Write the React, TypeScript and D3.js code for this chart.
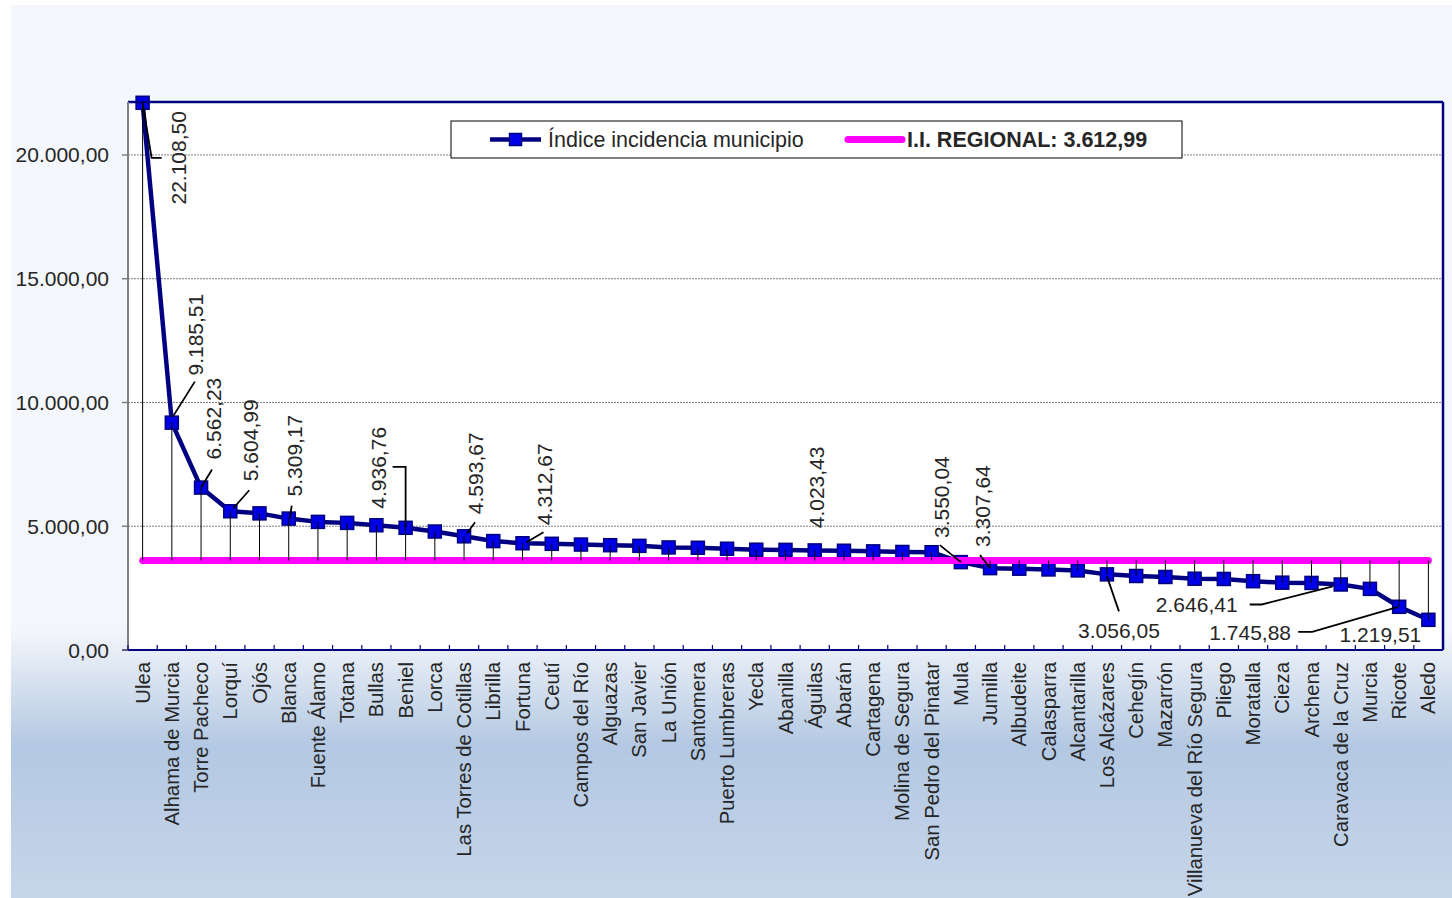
import React from "react";
import * as d3 from "d3";

const categories = [
  "Ulea", "Alhama de Murcia", "Torre Pacheco", "Lorquí", "Ojós", "Blanca", "Fuente Álamo", "Totana",
  "Bullas", "Beniel", "Lorca", "Las Torres de Cotillas", "Librilla", "Fortuna", "Ceutí", "Campos del Río",
  "Alguazas", "San Javier", "La Unión", "Santomera", "Puerto Lumbreras", "Yecla", "Abanilla", "Águilas",
  "Abarán", "Cartagena", "Molina de Segura", "San Pedro del Pinatar", "Mula", "Jumilla", "Albudeite",
  "Calasparra", "Alcantarilla", "Los Alcázares", "Cehegín", "Mazarrón", "Villanueva del Río Segura",
  "Pliego", "Moratalla", "Cieza", "Archena", "Caravaca de la Cruz", "Murcia", "Ricote", "Aledo",
];

const values = [
  22108.5, 9185.51, 6562.23, 5604.99, 5520, 5309.17, 5176, 5136,
  5040, 4936.76, 4787, 4593.67, 4400, 4312.67, 4290, 4260,
  4234, 4208, 4143, 4130, 4091, 4052, 4045, 4023.43,
  4010, 3985, 3960, 3950, 3550.04, 3307.64, 3285,
  3255, 3215, 3056.05, 2990, 2950, 2880,
  2870, 2780, 2720, 2710, 2646.41, 2470, 1745.88, 1219.51,
];

const regional = 3612.99;
const yTicks = [0, 5000, 10000, 15000, 20000];
const seriesName = "Índice incidencia municipio";
const regionalName = "I.I. REGIONAL: 3.612,99";

// label placement (offsets relative to the data point)
const labelPlacements = [
  { i: 0, rot: true, dx: 36, dy: 55, leader: [[0, 0], [9, 55], [19, 55]] },
  { i: 1, rot: true, dx: 24, dy: -88, leader: [[1, -6], [23, -41]] },
  { i: 2, rot: true, dx: 12, dy: -69, leader: [[0, 0], [11, -18]] },
  { i: 3, rot: true, dx: 20, dy: -71, leader: [[3, -3], [19, -21]] },
  { i: 5, rot: true, dx: 6, dy: -63, leader: [[1, 0], [3, -13]] },
  { i: 9, rot: true, dx: -27, dy: -60, leader: [[-13, -61], [0, -61], [0, 0]] },
  { i: 11, rot: true, dx: 11, dy: -63, leader: [[3, -3], [11, -14]] },
  { i: 13, rot: true, dx: 22, dy: -59, leader: [[4, -1], [21, -11]] },
  { i: 23, rot: true, dx: 2, dy: -63, leader: null },
  { i: 28, rot: true, dx: -19, dy: -65, leader: [[-21, -17], [0, 0]] },
  { i: 29, rot: true, dx: -8, dy: -62, leader: [[-10, -13], [0, 0]] },
  { i: 33, rot: false, dx: 12, dy: 56, leader: [[0, 2], [12, 37]] },
  { i: 41, rot: false, dx: -144, dy: 20, leader: [[-91, 20], [-79, 20], [-8, 2]] },
  { i: 43, rot: false, dx: -149, dy: 26, leader: [[-101, 25], [-87, 25], [-1, 0]] },
  { i: 44, rot: false, dx: -48, dy: 15, leader: null },
];

const W = 1452;
const H = 898;
const plot = { left: 128, right: 1443, top: 102, bottom: 650 };
const FONT = "'Liberation Sans', Arial, sans-serif";
const TXT = "#262626";

const locale = d3.formatLocale({ decimal: ",", thousands: ".", grouping: [3], currency: ["", ""] });
const fmt = locale.format(",.2f");

export default function App() {
  const x = d3.scaleBand<string>().domain(categories).range([plot.left, plot.right]).padding(0);
  const y = d3.scaleLinear().domain([0, 22140]).range([plot.bottom, plot.top]);
  const cx = (c: string) => (x(c) as number) + x.bandwidth() / 2;

  const line = d3
    .line<number>()
    .x((_, i) => cx(categories[i]))
    .y((d) => y(d));

  const yr = y(regional);
  const ms = 13;

  return (
    <svg
      width={W}
      height={H}
      style={{ position: "absolute", left: 0, top: 0, fontFamily: FONT }}
    >
      <defs>
        <linearGradient id="bg" x1="0" y1="0" x2="0" y2="1">
          <stop offset="0" stopColor="#f4f7fb" />
          <stop offset="0.70" stopColor="#f3f6fb" />
          <stop offset="0.83" stopColor="#b3c8e2" />
          <stop offset="1" stopColor="#c6d6ea" />
        </linearGradient>
      </defs>
      <rect x={0} y={0} width={W} height={H} fill="#ffffff" />
      <rect x={11} y={5} width={W - 11} height={H - 5} fill="url(#bg)" />

      {/* plot area */}
      <rect x={plot.left} y={plot.top} width={plot.right - plot.left} height={plot.bottom - plot.top} fill="#ffffff" />

      {/* gridlines */}
      {yTicks.filter((t) => t > 0).map((t) => (
        <line key={t} x1={plot.left} x2={plot.right} y1={y(t)} y2={y(t)} stroke="#7f7f7f" strokeWidth={1} strokeDasharray="2,1" />
      ))}

      {/* series line */}
      <path d={line(values) || ""} fill="none" stroke="#000080" strokeWidth={4.5} strokeLinejoin="round" />
      {values.map((v, i) => (
        <rect key={i} x={cx(categories[i]) - ms / 2} y={y(v) - ms / 2} width={ms} height={ms} fill="#0000e6" stroke="#000080" strokeWidth={1.5} />
      ))}

      {/* regional line */}
      <line x1={cx(categories[0])} x2={cx(categories[categories.length - 1])} y1={yr} y2={yr} stroke="#ff00ff" strokeWidth={7} strokeLinecap="round" />

      {/* high-low lines */}
      {values.map((v, i) => (
        <line key={i} x1={cx(categories[i])} x2={cx(categories[i])} y1={y(v)} y2={yr} stroke="#000000" strokeWidth={1} />
      ))}

      {/* plot border */}
      <line x1={plot.left} x2={plot.right} y1={plot.top} y2={plot.top} stroke="#000080" strokeWidth={2.5} />
      <line x1={plot.right} x2={plot.right} y1={plot.top} y2={plot.bottom} stroke="#000080" strokeWidth={2.5} />
      <line x1={plot.left} x2={plot.left} y1={plot.top} y2={plot.bottom} stroke="#808080" strokeWidth={2} />
      <line x1={plot.left - 6} x2={plot.right} y1={plot.bottom} y2={plot.bottom} stroke="#000080" strokeWidth={2} />

      {/* y ticks */}
      {yTicks.map((t) => (
        <g key={t}>
          <line x1={plot.left - 6} x2={plot.left} y1={y(t)} y2={y(t)} stroke="#808080" strokeWidth={1.5} />
          <text x={109} y={y(t)} textAnchor="end" dominantBaseline="central" fontSize={21} fill={TXT}>
            {fmt(t)}
          </text>
        </g>
      ))}

      {/* x ticks */}
      {categories.map((c) => (
        <line key={c} x1={x(c) as number} x2={x(c) as number} y1={plot.bottom - 5} y2={plot.bottom} stroke="#000080" strokeWidth={1.2} />
      ))}
      {categories.map((c) => (
        <text
          key={c}
          transform={`translate(${cx(c)},${plot.bottom + 12}) rotate(-90)`}
          textAnchor="end"
          dominantBaseline="central"
          fontSize={20.3}
          fill={TXT}
        >
          {c}
        </text>
      ))}

      {/* data labels */}
      {labelPlacements.map((p) => {
        const px = cx(categories[p.i]);
        const py = y(values[p.i]);
        return (
          <g key={p.i}>
            {p.leader && (
              <polyline
                points={p.leader.map(([a, b]) => `${px + a},${py + b}`).join(" ")}
                fill="none"
                stroke="#000000"
                strokeWidth={1.8}
              />
            )}
            <text
              transform={p.rot ? `translate(${px + p.dx},${py + p.dy}) rotate(-90)` : `translate(${px + p.dx},${py + p.dy})`}
              textAnchor="middle"
              dominantBaseline="central"
              fontSize={21}
              fill={TXT}
            >
              {fmt(values[p.i])}
            </text>
          </g>
        );
      })}

      {/* legend */}
      <rect x={451} y={121} width={731} height={37} fill="#ffffff" stroke="#000000" strokeWidth={1} />
      <line x1={490} x2={541} y1={139.5} y2={139.5} stroke="#000080" strokeWidth={4.5} />
      <rect x={515.5 - 6} y={139.5 - 6} width={12} height={12} fill="#0000e6" stroke="#000080" strokeWidth={1.5} />
      <text x={548} y={139.5} dominantBaseline="central" fontSize={21.5} fill={TXT}>
        {seriesName}
      </text>
      <line x1={848} x2={902} y1={139.5} y2={139.5} stroke="#ff00ff" strokeWidth={7} strokeLinecap="round" />
      <text x={907} y={139.5} dominantBaseline="central" fontSize={21.5} fontWeight="bold" fill={TXT}>
        {regionalName}
      </text>
    </svg>
  );
}
